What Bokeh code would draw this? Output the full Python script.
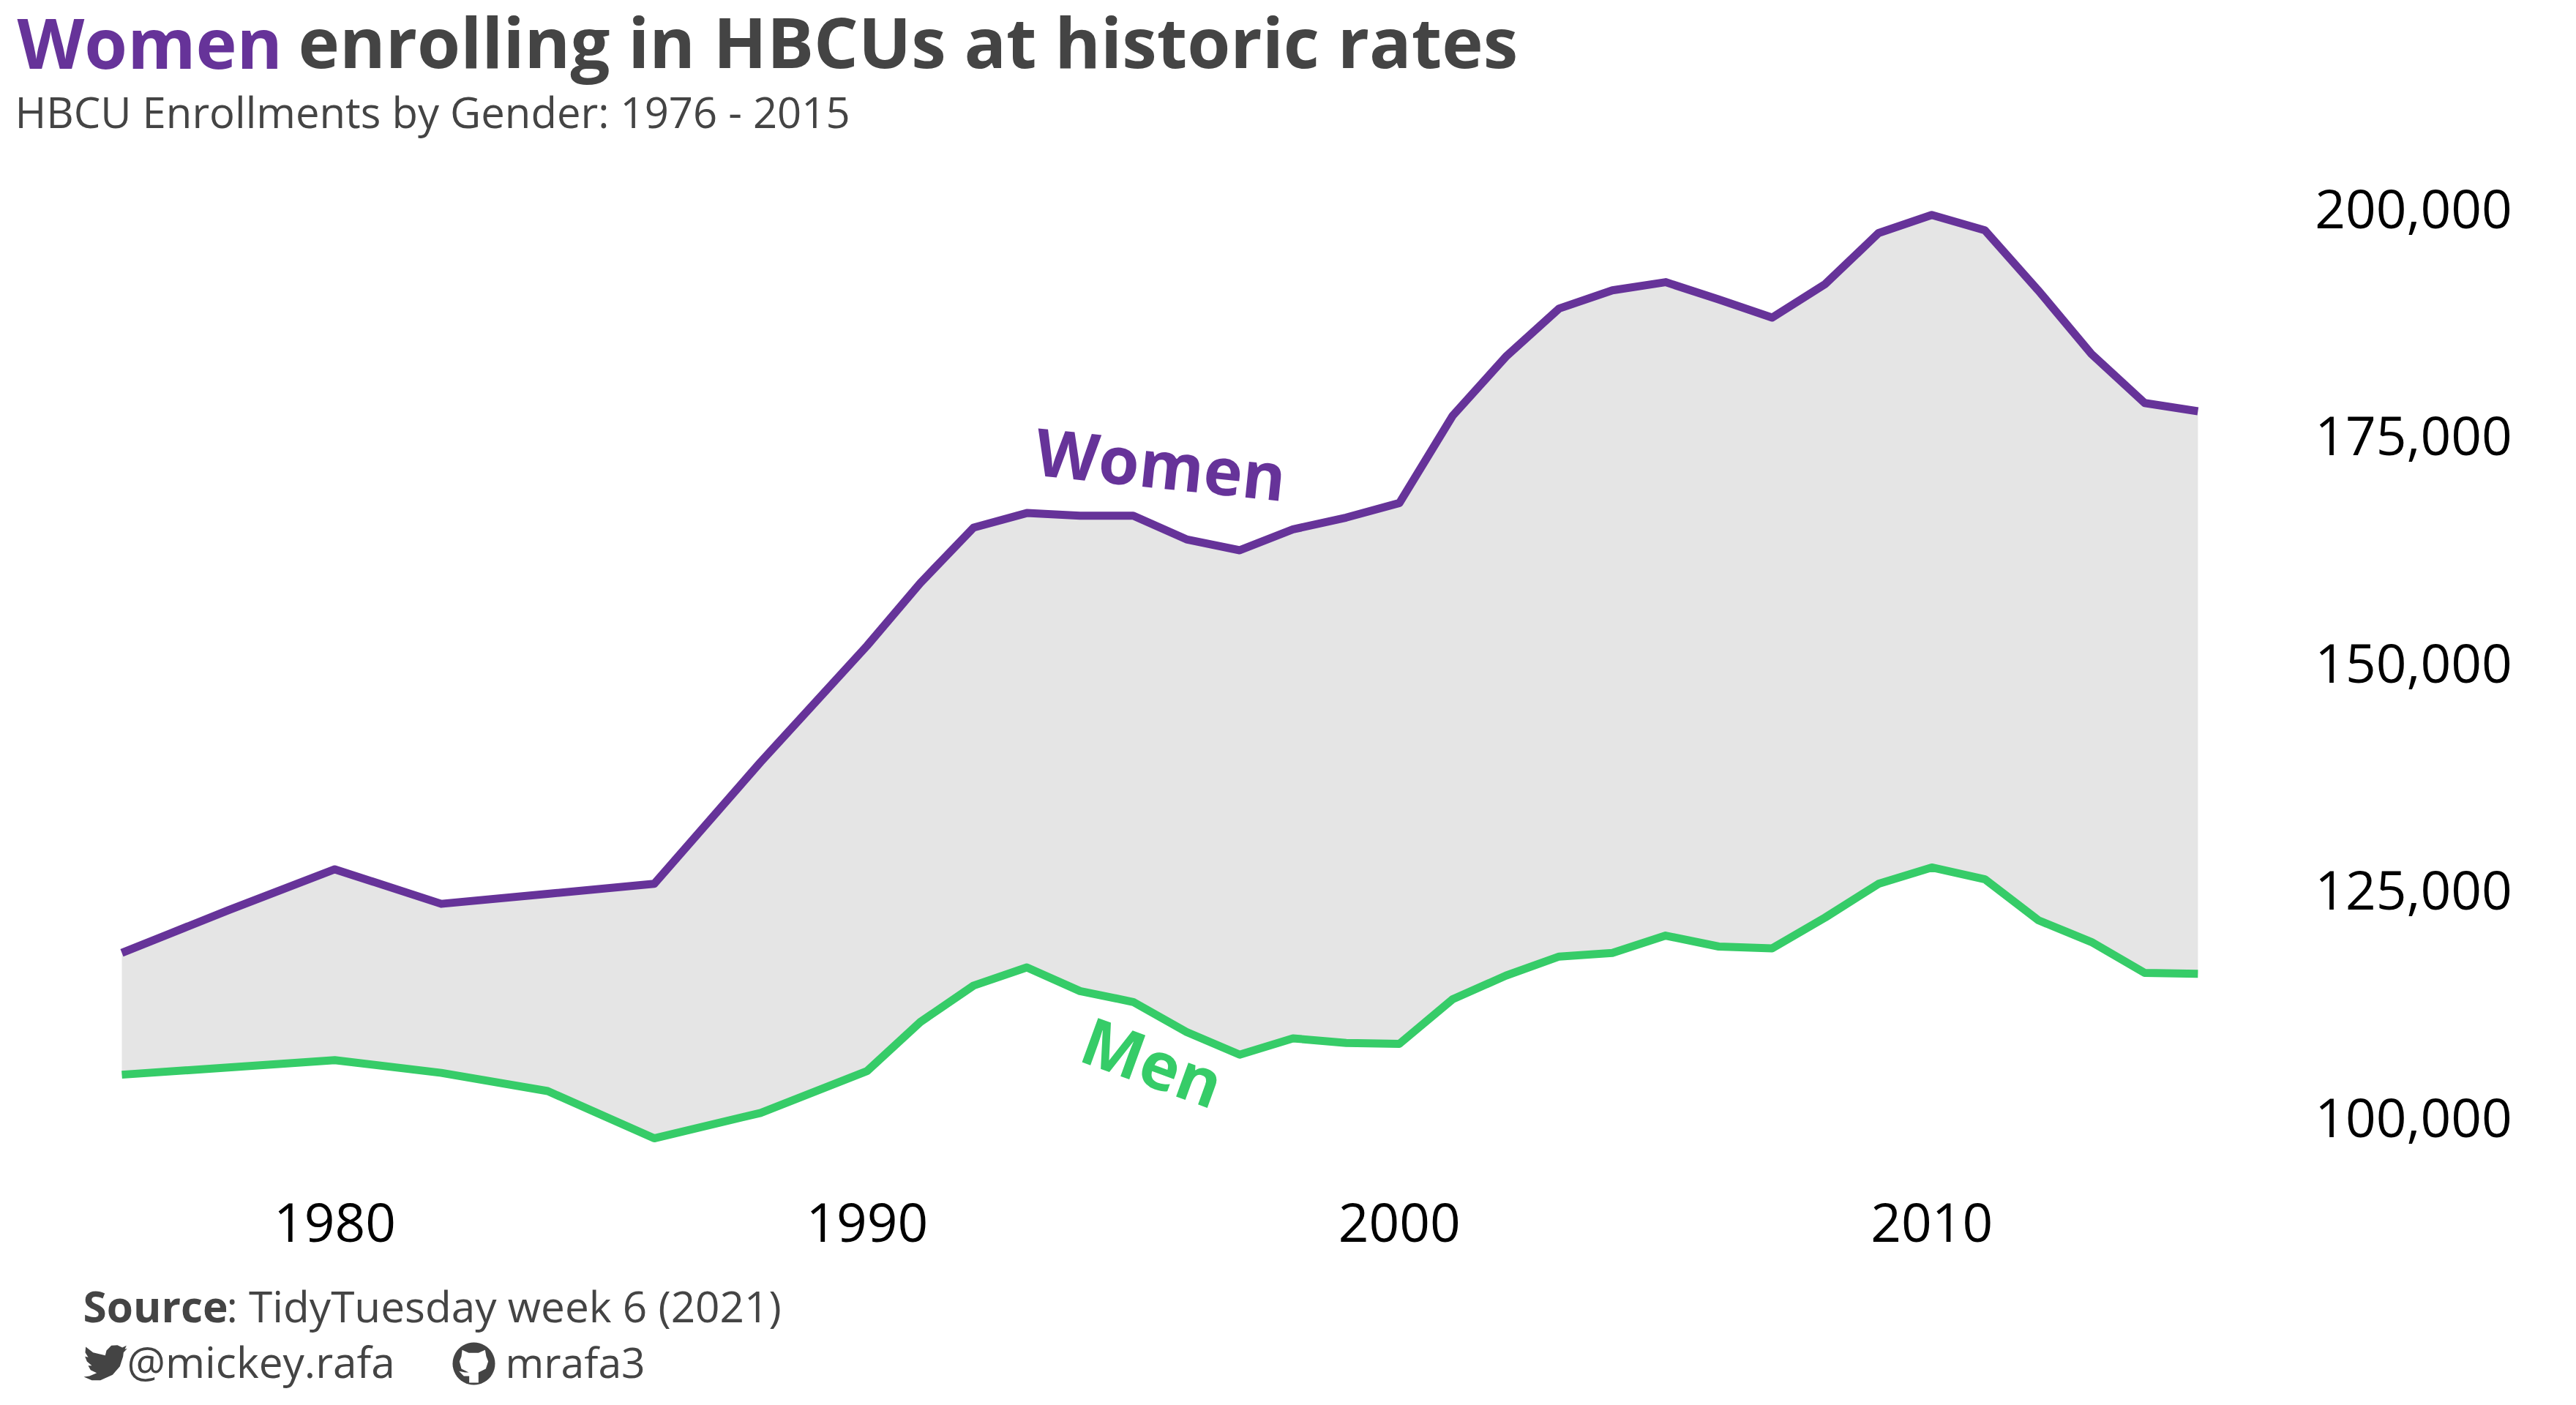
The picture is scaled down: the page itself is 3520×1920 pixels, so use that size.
from bokeh.plotting import figure
from bokeh.models import Range1d, LinearAxis, FixedTicker, NumeralTickFormatter, Label, PolyAnnotation
from bokeh.embed import file_html
from bokeh.resources import INLINE
from math import radians, cos, sin, pi

years = [1976,1978,1980,1982,1984,1986,1988,1990,1991,1992,1993,1994,1995,1996,1997,1998,1999,2000,2001,2002,2003,2004,2005,2006,2007,2008,2009,2010,2011,2012,2013,2014,2015]
women = [118100,122800,127300,123500,124600,125700,139100,151900,158800,164900,166500,166200,166200,163600,162400,164700,166000,167600,177200,183700,189000,191000,191900,190000,188000,191700,197300,199300,197600,191000,184000,178600,177700]
men = [104700,105500,106300,104900,102900,97700,100500,105100,110500,114500,116500,113900,112700,109400,106900,108700,108200,108100,113000,115600,117700,118100,120000,118800,118600,122000,125700,127500,126200,121700,119300,115900,115800]
x_ticks = [1980,1990,2000,2010]
y_ticks = [100000,125000,150000,175000,200000]

PURPLE = "#663399"; GREEN = "#36CC68"; GREY = "#E5E5E5"; INK = "#444444"
FONT = "Open Sans"
W, H = 3504, 1904
# figure-pixel calibration of the plot area
FIG_X_1976, PX_PER_YEAR = 166.0, 72.74
FIG_Y_100K, PX_PER_UNIT = 1526.5, 12.42/1000

def data_x(px): return 1976 + (px - FIG_X_1976)/PX_PER_YEAR
def data_y(py): return 100000 + (FIG_Y_100K - py)/PX_PER_UNIT

p = figure(width=W, height=H, output_backend="svg", toolbar_location=None,
           x_range=Range1d(data_x(0), data_x(W)), y_range=Range1d(data_y(H), data_y(0)),
           x_axis_location=None, y_axis_location=None,
           min_border_left=0, min_border_right=0, min_border_top=0, min_border_bottom=0)
p.outline_line_color = None
p.xgrid.visible = False; p.ygrid.visible = False
p.background_fill_color = "white"; p.border_fill_color = "white"

xa = LinearAxis(ticker=FixedTicker(ticks=x_ticks), fixed_location=data_y(1584))
ya = LinearAxis(ticker=FixedTicker(ticks=y_ticks), formatter=NumeralTickFormatter(format="0,0"), fixed_location=2015)
for a in (xa, ya):
    a.axis_line_color = None; a.major_tick_line_color = None; a.minor_tick_line_color = None
    a.major_label_text_font = FONT; a.major_label_text_font_size = "73px"; a.major_label_text_color = "black"
xa.major_label_standoff = 53
ya.major_label_standoff = 154
p.add_layout(xa, "below"); p.add_layout(ya, "right")

p.varea(years, men, women, fill_color=GREY)
p.line(years, women, line_color=PURPLE, line_width=11, line_join="round", line_cap="butt")
p.line(years, men, line_color=GREEN, line_width=11, line_join="round", line_cap="butt")

def txt(s, px, py, size, color=INK, style="normal", align="left", angle=0):
    p.add_layout(Label(x=px, y=H-py, x_units="screen", y_units="screen", text=s, text_font=FONT,
                       text_font_size=f"{size}px", text_color=color, text_font_style=style,
                       text_align=align, text_baseline="middle", angle=radians(angle)))

def line_txt(s, px, base_py, size, color=INK, style="normal"):
    txt(s, px, base_py - 0.40*size, size, color, style)

line_txt("Women", 23, 94, 95, PURPLE, "bold")
line_txt("enrolling in HBCUs at historic rates", 407, 94, 95.5, INK, "bold")
line_txt("HBCU Enrollments by Gender: 1976 - 2015", 20, 175, 58)
txt("Women", 1586, 632, 90, PURPLE, "bold", "center", -6)
txt("Men", 1575, 1449, 90, GREEN, "bold", "center", -20)
line_txt("Source", 113, 1807, 58.5, INK, "bold")
line_txt(": TidyTuesday week 6 (2021)", 309, 1807, 58.5)
line_txt("@mickey.rafa", 173, 1883, 58.5)
line_txt("mrafa3", 690, 1883, 57)

def poly(pts, color):
    p.add_layout(PolyAnnotation(xs=[a for a,_ in pts], ys=[H-b for _,b in pts],
                                xs_units="screen", ys_units="screen",
                                fill_color=color, fill_alpha=1, line_color=None))

bird = [(50,45),(80,68),(130,80),(135,60),(155,40),(180,38),(200,48),(217,40),(210,55),(220,52),(205,68),(203,85),(190,125),(160,160),(110,182),(75,182),(42,168),(65,165),(95,152),(70,140),(60,122),(75,122),(55,105),(47,85),(60,88),(48,68)]
poly([(100+a/3, 1825+b/3) for a,b in bird], INK)

cx, cy, r = 647, 1863, 29
poly([(cx+r*cos(2*pi*i/48), cy+r*sin(2*pi*i/48)) for i in range(48)], INK)
cat = [(63,58),(90,70),(130,70),(157,58),(162,85),(170,105),(160,135),(130,150),(130,192),(92,192),(92,165),(70,165),(50,145),(75,150),(90,150),(60,135),(52,105),(60,85)]
poly([(610+a/3, 1825+b/3) for a,b in cat], "white")

open("out.html", "w").write(file_html(p, INLINE))
